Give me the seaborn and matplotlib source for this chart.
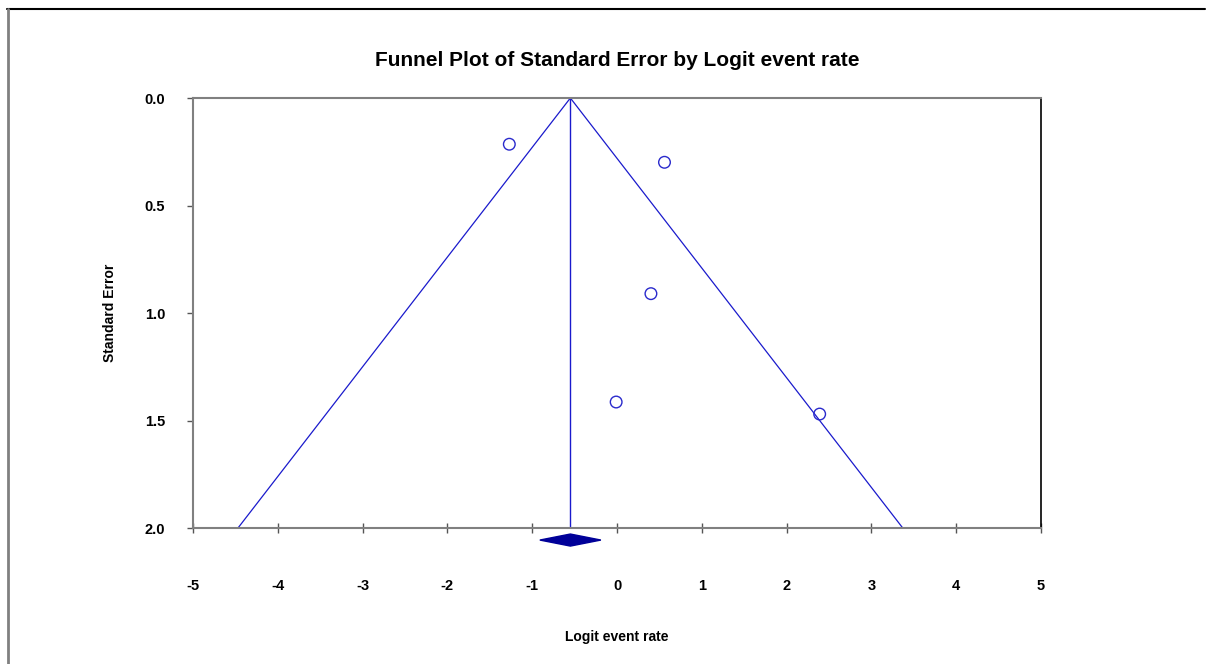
import numpy as np
import pandas as pd
import seaborn as sns
import matplotlib.pyplot as plt
from matplotlib.lines import Line2D

sns.set_theme(style="white")
plt.rcParams["font.family"] = ["Liberation Sans", "DejaVu Sans"]
plt.rcParams["text.color"] = "black"
plt.rcParams["axes.labelcolor"] = "black"
plt.rcParams["xtick.labelcolor"] = "black"
plt.rcParams["ytick.labelcolor"] = "black"

# study estimates (logit event rate) and their standard errors
logit_rate = [-1.27, 0.56, 0.40, -0.01, 2.39]
std_error = [0.215, 0.299, 0.910, 1.414, 1.47]

# pooled estimate and its confidence interval
summary_est = -0.55
summary_ci = [-0.91, -0.19]
se_max = 2.0

x_ticks = [-5, -4, -3, -2, -1, 0, 1, 2, 3, 4, 5]
y_ticks = [0.0, 0.5, 1.0, 1.5, 2.0]

df = pd.DataFrame({"logit": logit_rate, "se": std_error})

fig = plt.figure(figsize=(12.11, 6.64), dpi=100)
ax = fig.add_axes([0.1594, 0.2048, 0.7002, 0.6476])

line_col = "#1a1acc"

# funnel (pseudo 95% limits) and center line
se_grid = [0.0, se_max]
ax.plot([summary_est - 1.96 * s for s in se_grid], se_grid, color=line_col, lw=0.9)
ax.plot([summary_est + 1.96 * s for s in se_grid], se_grid, color=line_col, lw=0.9)
ax.plot([summary_est, summary_est], se_grid, color=line_col, lw=1.0)

sns.scatterplot(data=df, x="logit", y="se", ax=ax, s=70, marker="o",
                facecolor="none", edgecolor="#2a2acc", linewidth=1.0, zorder=3)

ax.set_xlim(-5, 5)
ax.set_ylim(2.0, 0.0)

# summary diamond below the axis
dy = 0.028
yc = se_max + 0.056
ax.fill([summary_ci[0], summary_est, summary_ci[1], summary_est],
        [yc, yc - dy, yc, yc + dy], color="#000099", clip_on=False, zorder=4)

ax.set_xticks(x_ticks)
ax.set_xticklabels([str(t) for t in x_ticks])
ax.set_yticks(y_ticks)
ax.set_yticklabels([f"{t:.1f}" for t in y_ticks])

ax.tick_params(axis="x", direction="inout", length=7, width=1, color="#555555",
               pad=33, labelsize=10.5, bottom=True)
ax.tick_params(axis="y", direction="out", length=4, width=1, color="#555555",
               pad=16, labelsize=10.5, left=True)
for lab in ax.get_xticklabels() + ax.get_yticklabels():
    lab.set_fontweight("bold")

for side in ["top", "bottom", "left"]:
    ax.spines[side].set_color("#808080")
    ax.spines[side].set_linewidth(1.5)
ax.spines["right"].set_color("black")
ax.spines["right"].set_linewidth(1.2)

ax.set_xlabel("Logit event rate", fontsize=10, fontweight="bold", labelpad=27)
ax.set_ylabel("Standard Error", fontsize=10, fontweight="bold", labelpad=20)
ax.set_title("Funnel Plot of Standard Error by Logit event rate",
             fontsize=15, fontweight="bold", pad=23)

# outer frame lines (top and left)
fig.add_artist(Line2D([7 / 1211, 1205 / 1211], [1 - 9 / 664, 1 - 9 / 664],
                      color="black", lw=1.5, transform=fig.transFigure))
fig.add_artist(Line2D([7.5 / 1211, 7.5 / 1211], [0, 1 - 9 / 664],
                      color="#808080", lw=2, transform=fig.transFigure))

fig.savefig("out.png", dpi=100)
